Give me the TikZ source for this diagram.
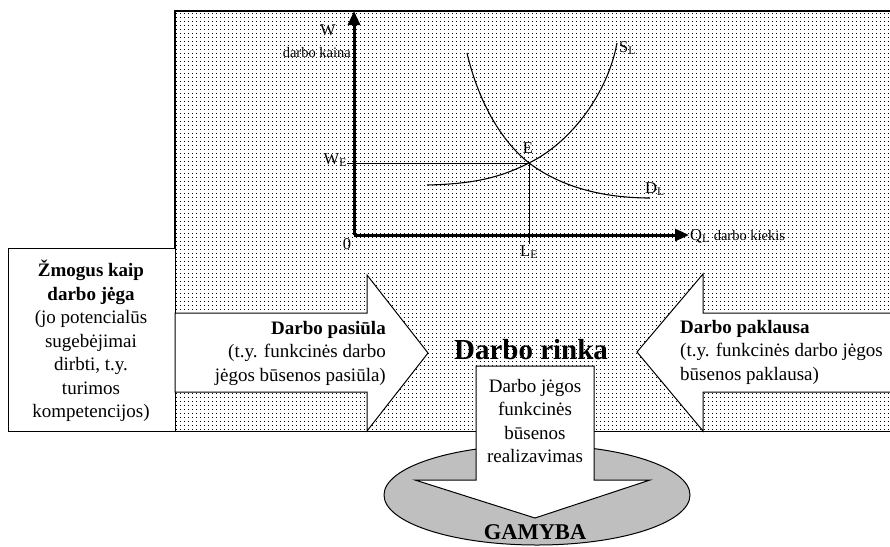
\documentclass[tikz,border=0pt]{standalone}
\usepackage{fontspec}
\setmainfont{Liberation Serif}
\usetikzlibrary{arrows.meta,patterns}
\pgfdeclarepatternformonly{mydots}{\pgfqpoint{0pt}{0pt}}{\pgfqpoint{1pt}{1pt}}{\pgfqpoint{4pt}{4pt}}{\pgfpathrectangle{\pgfqpoint{0pt}{0pt}}{\pgfqpoint{0.85pt}{0.85pt}}\pgfusepath{fill}}
\tikzset{
  shapeline/.style={draw=black,line width=1pt,fill=white,line join=miter},
  axisline/.style={line width=3pt,-{Triangle[length=14pt,width=12pt]}},
  curve/.style={line width=1.1pt},
  guide/.style={line width=1pt},
  body/.style={font=\fontsize{19}{23.5}\selectfont,inner sep=0pt},
  lbl/.style={font=\fontsize{16.5}{18}\selectfont,inner sep=0pt},
  sub/.style={font=\fontsize{14.5}{16}\selectfont,inner sep=0pt},
}
\begin{document}
\begin{tikzpicture}[x=1pt,y=-1pt]
\useasboundingbox (0,0) rectangle (890,546);
% dotted market region
\path[pattern=mydots,pattern color=black] (175,11) rectangle (893,431);
\draw[line width=1.6pt] (893,11) -- (175,11) -- (175,431);
\draw[line width=1pt] (8,431) -- (893,431);
% left box
\draw[shapeline] (8,248) rectangle (175,431);
% supply arrow
\draw[shapeline] (175,313) -- (367,313) -- (367,275) -- (428,353) -- (367,431) -- (367,392) -- (175,392) -- cycle;
% demand arrow
\draw[shapeline] (893,313) -- (703,313) -- (703,274) -- (637,352) -- (703,431) -- (703,392) -- (893,392);
% production ellipse
\draw[line width=1pt,fill=black!25] (537,495) ellipse [x radius=153,y radius=50];
% down arrow
\draw[shapeline] (476,366) -- (594,366) -- (594,480) -- (650,480) -- (535,518) -- (415,480) -- (476,480) -- cycle;

% graph
\coordinate (O) at (354,235);
\coordinate (Ytop) at (354,11);
\coordinate (Xend) at (689,235);
\coordinate (E) at (529,163);
\coordinate (WEs) at (347,163);
\coordinate (LEs) at (529,244);
\draw[axisline] (O) -- (Ytop);
\draw[axisline] (O) -- (Xend);
\draw[guide] (WEs) -- (E) -- (LEs);
\draw[curve] (427,185) .. controls (480,184) and (505,175) .. (E) .. controls (572,142) and (608,92) .. (617,43);
\draw[curve] (467,53) .. controls (478,100) and (500,140) .. (E) .. controls (565,190) and (610,198) .. (650,198);

\node[lbl] (w) at (328,30) {W};
\node[sub,anchor=east] (wk) at (351,53) {darbo kaina};
\node[lbl,anchor=west] (sl) at (619,48) {S\textsubscript{L}};
\node[lbl,anchor=west] (dl) at (645,189) {D\textsubscript{L}};
\node[lbl] (e) at (528,148) {E};
\node[lbl,anchor=east] (we) at (347,160) {W\textsubscript{E}};
\node[lbl] (zero) at (347,244) {0};
\node[lbl] (le) at (529,252) {L\textsubscript{E}};
\node[lbl,anchor=west] (q) at (690,236) {Q\textsubscript{L} {\fontsize{14.5}{16}\selectfont darbo kiekis}};

% texts
\node[body,align=center] (human) at (91,341) {\textbf{Žmogus kaip}\\\textbf{darbo jėga}\\(jo potencialūs\\sugebėjimai\\dirbti, t.y.\\turimos\\kompetencijos)};
\node[body,align=right,anchor=east] (supply) at (386,353) {\textbf{Darbo pasiūla}\\(t.y. funkcinės darbo\\jėgos būsenos pasiūla)};
\node[body,align=left,anchor=west] (demand) at (680,352) {\textbf{Darbo paklausa}\\(t.y. funkcinės darbo jėgos\\būsenos paklausa)};
\node[inner sep=0pt,font=\fontsize{29}{31}\selectfont\bfseries] (market) at (531,350) {Darbo rinka};
\node[body,align=center] (real) at (535,421) {Darbo jėgos\\funkcinės\\būsenos\\realizavimas};
\node[inner sep=0pt,font=\fontsize{22.5}{24}\selectfont\bfseries] (prod) at (535,532) {GAMYBA};
\end{tikzpicture}
\end{document}
